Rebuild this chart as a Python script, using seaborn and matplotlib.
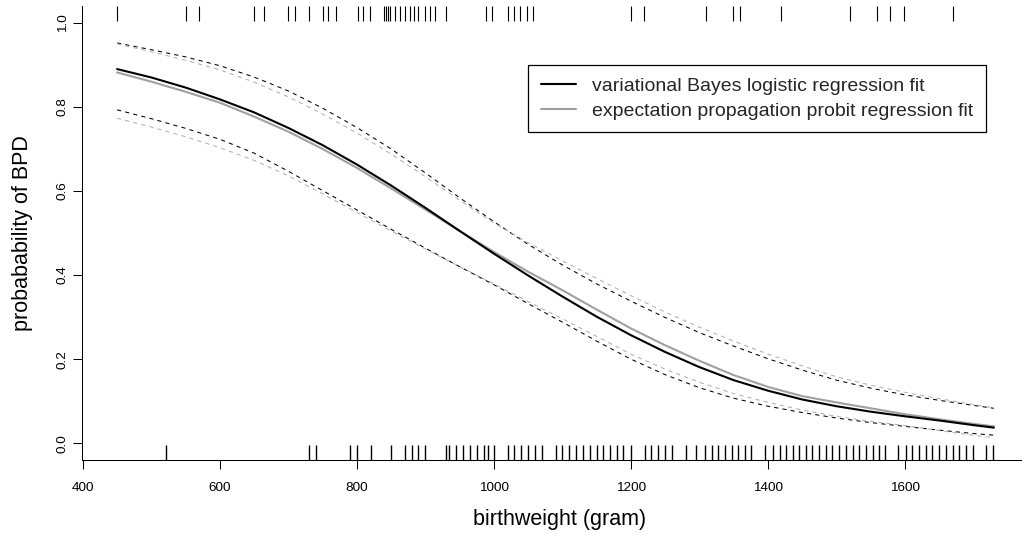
import matplotlib
matplotlib.use("Agg")
import matplotlib.pyplot as plt
import pandas as pd
import seaborn as sns

birthweight = [450, 500, 550, 600, 650, 700, 750, 800, 850, 900, 950, 1000, 1050,
               1100, 1150, 1200, 1250, 1300, 1350, 1400, 1450, 1500, 1550, 1600,
               1650, 1700, 1730]

# variational Bayes logistic regression: fit and pointwise band
vb_fit = [0.890, 0.870, 0.846, 0.818, 0.787, 0.750, 0.709, 0.663, 0.613, 0.560,
          0.505, 0.451, 0.399, 0.349, 0.301, 0.257, 0.217, 0.181, 0.150, 0.125,
          0.104, 0.088, 0.075, 0.064, 0.054, 0.043, 0.037]
vb_upper = [0.952, 0.936, 0.919, 0.898, 0.871, 0.838, 0.797, 0.751, 0.700, 0.643,
            0.584, 0.527, 0.473, 0.424, 0.379, 0.338, 0.299, 0.263, 0.231, 0.201,
            0.174, 0.150, 0.131, 0.115, 0.102, 0.090, 0.083]
vb_lower = [0.793, 0.772, 0.749, 0.723, 0.690, 0.647, 0.601, 0.555, 0.509, 0.464,
            0.420, 0.377, 0.332, 0.288, 0.243, 0.200, 0.163, 0.132, 0.107, 0.088,
            0.073, 0.060, 0.049, 0.040, 0.031, 0.023, 0.019]

# expectation propagation probit regression: fit and pointwise band
ep_fit = [0.882, 0.860, 0.836, 0.810, 0.777, 0.741, 0.700, 0.655, 0.606, 0.556,
          0.505, 0.455, 0.408, 0.364, 0.318, 0.273, 0.233, 0.196, 0.162, 0.134,
          0.112, 0.097, 0.083, 0.069, 0.057, 0.046, 0.040]
ep_upper = [0.950, 0.931, 0.911, 0.888, 0.859, 0.824, 0.783, 0.738, 0.688, 0.634,
            0.578, 0.524, 0.477, 0.434, 0.392, 0.351, 0.312, 0.276, 0.243, 0.212,
            0.184, 0.158, 0.138, 0.121, 0.106, 0.092, 0.084]
ep_lower = [0.773, 0.752, 0.729, 0.703, 0.673, 0.636, 0.593, 0.549, 0.505, 0.462,
            0.420, 0.379, 0.337, 0.296, 0.254, 0.212, 0.176, 0.145, 0.118, 0.097,
            0.079, 0.064, 0.052, 0.042, 0.030, 0.019, 0.013]

# observed birthweights, split by outcome (rug marks)
bpd_yes = [450, 550, 570, 650, 664, 700, 710, 730, 750, 758, 770, 801, 809, 819,
           839, 842, 845, 849, 855, 863, 870, 877, 884, 890, 899, 907, 914, 930,
           989, 998, 1021, 1030, 1038, 1048, 1057, 1200, 1219, 1310, 1349, 1359,
           1419, 1520, 1559, 1579, 1599, 1670]
bpd_no = [521, 730, 740, 790, 800, 820, 850, 870, 880, 890, 900, 930, 935, 945,
          955, 965, 975, 985, 992, 1000, 1020, 1030, 1040, 1050, 1060, 1070, 1090,
          1100, 1110, 1120, 1130, 1140, 1150, 1160, 1170, 1180, 1188, 1200, 1220,
          1230, 1240, 1250, 1260, 1280, 1295, 1308, 1318, 1327, 1337, 1347, 1357,
          1366, 1376, 1396, 1407, 1417, 1426, 1436, 1446, 1455, 1465, 1475, 1485,
          1494, 1504, 1514, 1524, 1533, 1543, 1553, 1562, 1571, 1590, 1601, 1611,
          1621, 1631, 1640, 1650, 1660, 1670, 1679, 1689, 1699, 1718, 1728]

x_ticks = [400, 600, 800, 1000, 1200, 1400, 1600]
y_ticks = [0.0, 0.2, 0.4, 0.6, 0.8, 1.0]

sns.set_theme(style="ticks")
plt.rcParams["font.family"] = ["Liberation Sans", "DejaVu Sans"]

curves = pd.DataFrame({
    "bw": birthweight,
    "vb_fit": vb_fit, "vb_lower": vb_lower, "vb_upper": vb_upper,
    "ep_fit": ep_fit, "ep_lower": ep_lower, "ep_upper": ep_upper,
})

fig = plt.figure(figsize=(10.22, 5.35), dpi=100)
ax = fig.add_axes([82 / 1022, 75 / 535, 947 / 1022, 454 / 535])

dash = (0, (4, 4))
for col in ["vb_upper", "vb_lower"]:
    sns.lineplot(data=curves, x="bw", y=col, color="black", lw=0.75,
                 linestyle=dash, ax=ax)
for col in ["ep_upper", "ep_lower"]:
    sns.lineplot(data=curves, x="bw", y=col, color="#b0b0b0", lw=0.75,
                 linestyle=dash, ax=ax)
sns.lineplot(data=curves, x="bw", y="ep_fit", color="#a0a0a0", lw=1.5, ax=ax,
             label="expectation propagation probit regression fit")
sns.lineplot(data=curves, x="bw", y="vb_fit", color="black", lw=1.5, ax=ax,
             label="variational Bayes logistic regression fit")

sns.rugplot(x=bpd_no, height=0.032, color="black", lw=0.8, ax=ax,
            expand_margins=False)
ax.vlines(bpd_yes, 1 - 0.034, 1, color="black", lw=0.8,
          transform=ax.get_xaxis_transform())

ax.set_xlim(398.8, 1781.2)
ax.set_ylim(-0.04, 1.04)
ax.set_xticks(x_ticks)
ax.set_yticks(y_ticks)
ax.set_yticklabels([f"{v:.1f}" for v in y_ticks])
ax.tick_params(axis="both", direction="out", length=6.5, width=0.75,
               color="black", labelsize=9.7, labelcolor="black")
ax.tick_params(axis="x", pad=9)
ax.tick_params(axis="y", labelrotation=90, pad=3)
for lab in ax.get_yticklabels():
    lab.set_va("center")

for side in ["top", "right"]:
    ax.spines[side].set_visible(False)
for side in ["left", "bottom"]:
    ax.spines[side].set_color("black")
    ax.spines[side].set_linewidth(0.75)

ax.set_xlabel("birthweight (gram)", fontsize=15.5, color="black")
ax.set_ylabel("probabability of BPD", fontsize=15.5, color="black")
ax.xaxis.set_label_coords(560 / 1022, 1 - 520 / 535, transform=fig.transFigure)
ax.yaxis.set_label_coords(23 / 1022, 1 - 233 / 535, transform=fig.transFigure)
ax.xaxis.label.set_va("center")
ax.yaxis.label.set_va("center")

handles, labels = ax.get_legend_handles_labels()
order = [labels.index("variational Bayes logistic regression fit"),
         labels.index("expectation propagation probit regression fit")]
leg = ax.legend([handles[i] for i in order], [labels[i] for i in order],
                loc="upper left", bbox_to_anchor=(528 / 1022, 1 - 65 / 535),
                bbox_transform=fig.transFigure, fontsize=14, frameon=True,
                fancybox=False, framealpha=1, edgecolor="black",
                borderpad=0.65, labelspacing=0.35, handlelength=1.8,
                handletextpad=0.85, borderaxespad=0)
leg.get_frame().set_linewidth(0.9)

fig.savefig("out.png", dpi=100)
